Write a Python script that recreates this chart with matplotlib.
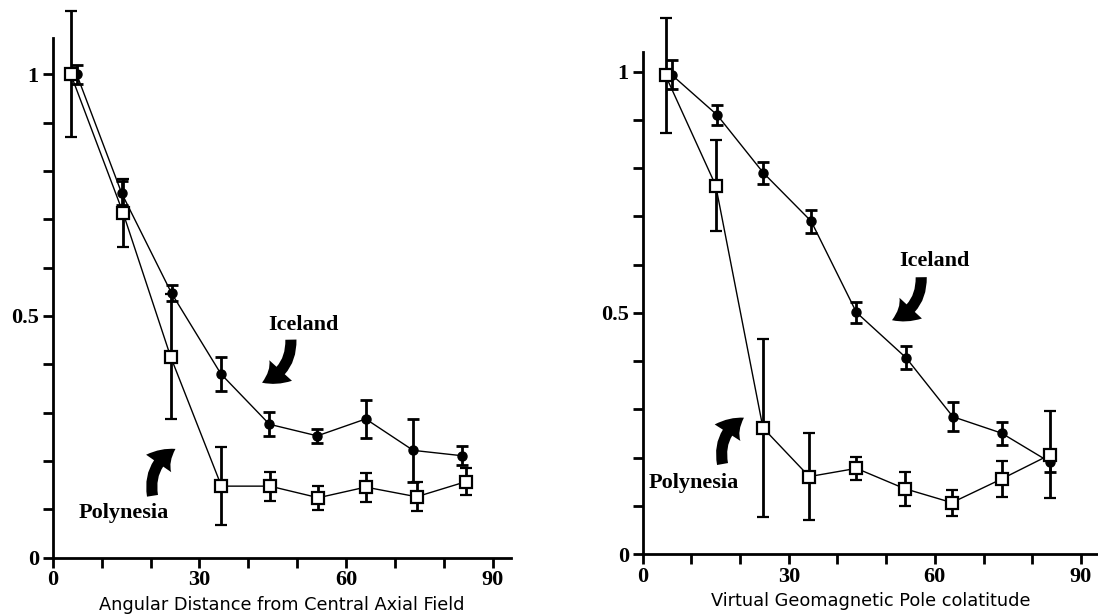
import matplotlib.pyplot as plt
from matplotlib.patches import FancyArrowPatch
from matplotlib.ticker import MultipleLocator, FixedLocator, FixedFormatter

# left panel: angular distance from central axial field
left_ice_x = [4.9, 14.1, 24.3, 34.4, 44.3, 54.1, 64.0, 73.7, 83.6]
left_ice_y = [1.0, 0.754, 0.547, 0.38, 0.276, 0.252, 0.287, 0.222, 0.211]
left_ice_err = [0.02, 0.025, 0.017, 0.035, 0.025, 0.015, 0.04, 0.065, 0.02]
left_pol_x = [3.7, 14.4, 24.1, 34.5, 44.4, 54.3, 64.0, 74.4, 84.4]
left_pol_y = [1.0, 0.713, 0.416, 0.148, 0.148, 0.124, 0.146, 0.126, 0.157]
left_pol_err = [0.13, 0.07, 0.13, 0.08, 0.03, 0.025, 0.03, 0.03, 0.028]

# right panel: VGP colatitude
right_ice_x = [6.0, 15.3, 24.8, 34.6, 43.9, 54.1, 63.7, 73.7, 83.6]
right_ice_y = [0.993, 0.910, 0.790, 0.690, 0.501, 0.407, 0.285, 0.251, 0.191]
right_ice_err = [0.03, 0.02, 0.022, 0.024, 0.022, 0.024, 0.03, 0.024, 0.02]
right_pol_x = [4.7, 15.0, 24.7, 34.2, 43.9, 53.8, 63.5, 73.7, 83.6]
right_pol_y = [0.992, 0.764, 0.262, 0.161, 0.178, 0.136, 0.107, 0.156, 0.206]
right_pol_err = [0.12, 0.095, 0.184, 0.09, 0.024, 0.035, 0.027, 0.038, 0.09]

xlabels = ["Angular Distance from Central Axial Field", "Virtual Geomagnetic Pole colatitude"]
xright = [93.7, 93.5]
ytop = [1.075, 1.04]

serif = "Liberation Serif"
sans = "DejaVu Sans"

fig = plt.figure(figsize=(10.98, 6.15), dpi=100)
ax1 = fig.add_axes([0.048, 0.0932, 0.4174, 0.845])
ax2 = fig.add_axes([0.5853, 0.0987, 0.4147, 0.8163])

panels = [
    (ax1, left_ice_x, left_ice_y, left_ice_err, left_pol_x, left_pol_y, left_pol_err),
    (ax2, right_ice_x, right_ice_y, right_ice_err, right_pol_x, right_pol_y, right_pol_err),
]

for i, (ax, ix, iy, ie, px, py, pe) in enumerate(panels):
    c1 = ax.errorbar(ix, iy, yerr=ie, color='black', lw=1.0, marker='o', ms=6.5,
                     mfc='black', mec='black', ecolor='black', elinewidth=2.0,
                     capsize=4, capthick=2.0, zorder=3)
    c2 = ax.errorbar(px, py, yerr=pe, color='black', lw=1.0, marker='s', ms=8.5,
                     mfc='white', mec='black', mew=1.6, ecolor='black', elinewidth=2.0,
                     capsize=4, capthick=2.0, zorder=4)
    for c in (c1, c2):
        for a in c.get_children():
            a.set_clip_on(False)
    ax.set_xlim(0, xright[i])
    ax.set_ylim(0, ytop[i])
    for s in ['top', 'right']:
        ax.spines[s].set_visible(False)
    for s in ['left', 'bottom']:
        ax.spines[s].set_linewidth(2.0)
    ax.xaxis.set_major_locator(FixedLocator([0, 30, 60, 90]))
    ax.xaxis.set_minor_locator(MultipleLocator(10))
    ax.yaxis.set_major_locator(FixedLocator([0, 0.5, 1.0]))
    ax.yaxis.set_major_formatter(FixedFormatter(["0", "0.5", "1"]))
    ax.yaxis.set_minor_locator(MultipleLocator(0.1))
    ax.tick_params(which='both', direction='out', width=2.0, length=7)
    for lab in ax.get_xticklabels() + ax.get_yticklabels():
        lab.set_fontfamily(serif)
        lab.set_fontweight('bold')
        lab.set_fontsize(16)
    ax.tick_params(axis='x', pad=2)
    ax.tick_params(axis='y', pad=3)
    ax.set_xlabel(xlabels[i], fontfamily=sans, fontsize=12.8, labelpad=4)

# annotations
ax1.text(44, 0.481, "Iceland", fontfamily=serif, fontweight='bold', fontsize=16, va='center')
ax1.text(5.2, 0.093, "Polynesia", fontfamily=serif, fontweight='bold', fontsize=16, va='center')
ax2.text(52.6, 0.607, "Iceland", fontfamily=serif, fontweight='bold', fontsize=16, va='center')
ax2.text(1.2, 0.147, "Polynesia", fontfamily=serif, fontweight='bold', fontsize=16, va='center')

arrows = [
    (ax1, (48.7, 0.451), (42.8, 0.362)),
    (ax1, (20.4, 0.128), (25.1, 0.225)),
    (ax2, (57.2, 0.574), (51.2, 0.485)),
    (ax2, (16.4, 0.187), (20.8, 0.283)),
]
for ax, start, end in arrows:
    arr = FancyArrowPatch(start, end, arrowstyle='simple,head_width=22,head_length=16,tail_width=8',
                          connectionstyle='arc3,rad=-0.35', color='black', lw=0, zorder=5,
                          shrinkA=0, shrinkB=0)
    ax.add_patch(arr)

fig.savefig("out.png", dpi=100)
